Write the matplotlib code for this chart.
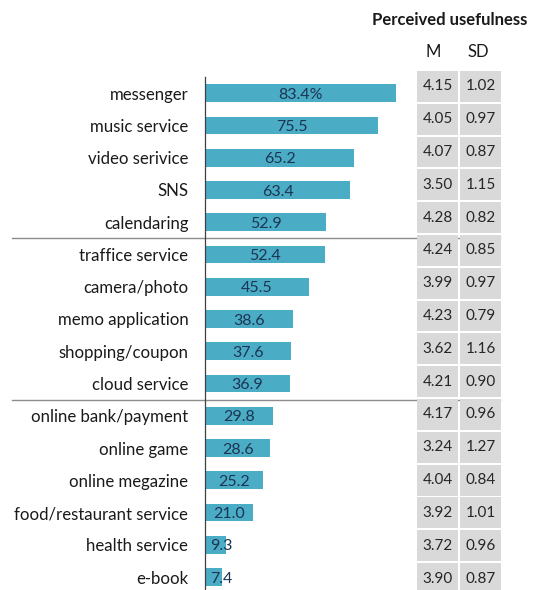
import matplotlib.pyplot as plt
import matplotlib.patches as mpatches

plt.rcParams['font.family'] = ['Lato', 'DejaVu Sans']

# apps, usage rate (%) and perceived usefulness (mean / sd)
apps = ['messenger', 'music service', 'video serivice', 'SNS', 'calendaring',
        'traffice service', 'camera/photo', 'memo application', 'shopping/coupon',
        'cloud service', 'online bank/payment', 'online game', 'online megazine',
        'food/restaurant service', 'health service', 'e-book']
usage = [83.4, 75.5, 65.2, 63.4, 52.9, 52.4, 45.5, 38.6, 37.6, 36.9,
         29.8, 28.6, 25.2, 21.0, 9.3, 7.4]
m_vals = ['4.15', '4.05', '4.07', '3.50', '4.28', '4.24', '3.99', '4.23', '3.62', '4.21',
          '4.17', '3.24', '4.04', '3.92', '3.72', '3.90']
sd_vals = ['1.02', '0.97', '0.87', '1.15', '0.82', '0.85', '0.97', '0.79', '1.16', '0.90',
           '0.96', '1.27', '0.84', '1.01', '0.96', '0.87']
group_breaks = [4.5, 9.5]

W, H = 535, 590
fig = plt.figure(figsize=(W / 100, H / 100), dpi=100)

# bars
ax = fig.add_axes([205 / W, 0, 205 / W, 513 / H])
rows = range(len(apps))
ax.barh(rows, usage, height=0.55, color='#4bacc6')
ax.set_xlim(0, 205 / 2.29)
ax.set_ylim(15.4, -0.5)
ax.set_yticks(list(rows))
ax.set_yticklabels(apps, fontsize=12.1, color='#1a1a1a')
ax.tick_params(axis='y', length=0, pad=12)
ax.set_xticks([])
for s in ['top', 'right', 'bottom']:
    ax.spines[s].set_visible(False)
ax.spines['left'].set_color('#404040')
ax.spines['left'].set_linewidth(0.9)

for i, v in enumerate(usage):
    txt = f'{v:.1f}%' if i == 0 else f'{v:.1f}'
    ax.text(max(v / 2, 7), i + 0.05, txt, ha='center', va='center',
            fontsize=11.5, color='#1b3553')

for yb in group_breaks:
    ax.axhline(yb, xmin=-0.94, xmax=1.44, color='#8c8c8c', lw=1.0, clip_on=False)

# table of perceived usefulness
tx = fig.add_axes([416 / W, 0, 86 / W, 520 / H])
tx.set_xlim(0, 2)
tx.set_ylim(15.35, -0.5)
tx.axis('off')
for i in rows:
    for j, vals in enumerate([m_vals, sd_vals]):
        tx.add_patch(mpatches.Rectangle((j + 0.03, i - 0.47), 0.94, 0.94,
                                        facecolor='#d9d9d9', edgecolor='none',
                                        clip_on=False))
        tx.text(j + 0.5, i, vals[i], ha='center', va='center',
                fontsize=11, color='#262626')
tx.text(0.4, -1.05, 'M', ha='center', va='center', fontsize=12, color='#1a1a1a')
tx.text(1.45, -1.05, 'SD', ha='center', va='center', fontsize=12, color='#1a1a1a')

fig.text(527 / W, 1 - 20 / H, 'Perceived usefulness', ha='right', va='center',
         fontsize=12, fontweight='bold', color='#1a1a1a')

fig.savefig('out.png', dpi=100)
